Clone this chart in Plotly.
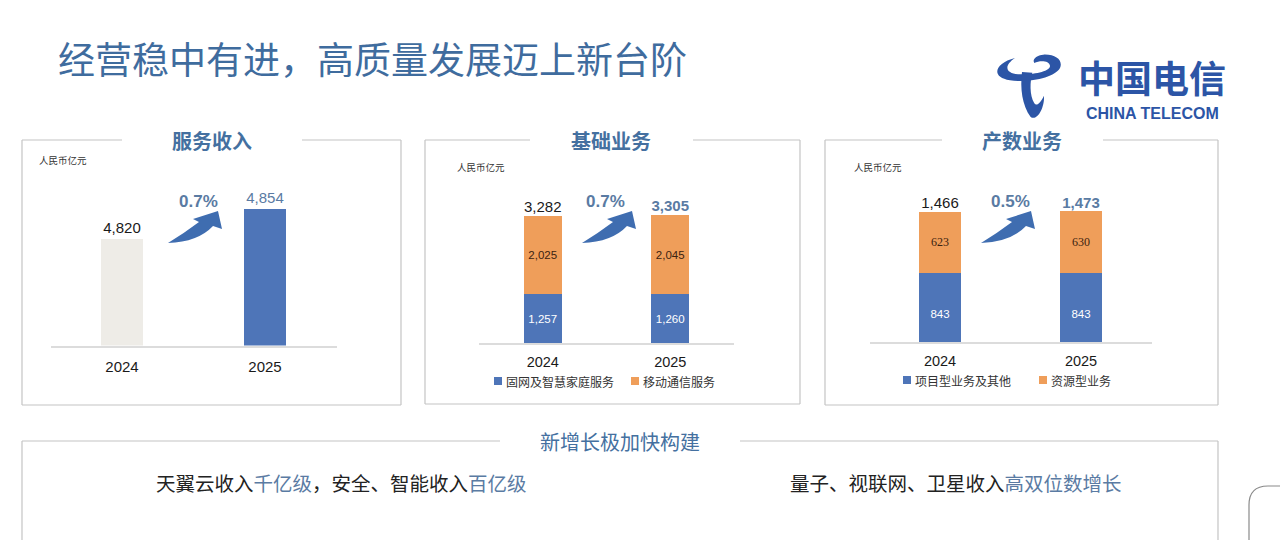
import plotly.graph_objects as go

# ---- data (unit: 人民币亿元) ----
years = ["2024", "2025"]
service_revenue = [4820, 4854]
basic_fixed_home = [1257, 1260]      # 固网及智慧家庭服务
basic_mobile = [2025, 2045]          # 移动通信服务
digital_project = [843, 843]         # 项目型业务及其他
digital_resource = [623, 630]        # 资源型业务
growth_labels = ["0.7%", "0.7%", "0.5%"]

panel_titles = ["服务收入", "基础业务", "产数业务"]
legend_basic = ["固网及智慧家庭服务", "移动通信服务"]
legend_digital = ["项目型业务及其他", "资源型业务"]

W, H = 1280, 540
BLUE = "#4e75b8"
ORANGE = "#ef9e5a"
LIGHT = "#eeece7"
STEEL = "#5a7ba3"
TITLE_BLUE = "#4470a0"
FRAME = "#c4c4c4"
CJK = "Noto Sans CJK SC"
NUM = "Liberation Sans, Arial, sans-serif"


def px(x):
    return x / W


def py(y):
    return 1 - y / H


def fmt(v):
    return f"{v:,}"


fig = go.Figure()

# 服务收入
fig.add_trace(go.Bar(
    x=years, y=service_revenue, name="服务收入",
    marker=dict(color=[LIGHT, BLUE], line=dict(width=0)),
    text=[fmt(v) for v in service_revenue], textposition="outside",
    textfont=dict(family=NUM, size=15, color=["#1a1a1a", STEEL]),
    cliponaxis=False, showlegend=False, xaxis="x", yaxis="y",
))

# 基础业务
fig.add_trace(go.Bar(
    x=years, y=basic_fixed_home, name=legend_basic[0],
    marker=dict(color=BLUE, line=dict(width=0)),
    text=[fmt(v) for v in basic_fixed_home], textposition="inside",
    insidetextanchor="middle", textangle=0,
    textfont=dict(family=NUM, size=11.5, color="white"),
    showlegend=False, xaxis="x2", yaxis="y2",
))
fig.add_trace(go.Bar(
    x=years, y=basic_mobile, name=legend_basic[1],
    marker=dict(color=ORANGE, line=dict(width=0)),
    text=[fmt(v) for v in basic_mobile], textposition="inside",
    insidetextanchor="middle", textangle=0,
    textfont=dict(family=NUM, size=11.5, color="#3b2210"),
    showlegend=False, xaxis="x2", yaxis="y2",
))
basic_total = [a + b for a, b in zip(basic_fixed_home, basic_mobile)]
fig.add_trace(go.Scatter(
    x=years, y=basic_total, mode="text",
    text=[fmt(basic_total[0]), "<b>" + fmt(basic_total[1]) + "</b>"],
    textposition="top center",
    textfont=dict(family=NUM, size=15, color=["#1a1a1a", STEEL]),
    showlegend=False, hoverinfo="skip", cliponaxis=False, xaxis="x2", yaxis="y2",
))

# 产数业务
fig.add_trace(go.Bar(
    x=years, y=digital_project, name=legend_digital[0],
    marker=dict(color=BLUE, line=dict(width=0)),
    text=[fmt(v) for v in digital_project], textposition="inside",
    insidetextanchor="middle", textangle=0,
    textfont=dict(family=NUM, size=11.5, color="white"),
    showlegend=False, xaxis="x3", yaxis="y3",
))
fig.add_trace(go.Bar(
    x=years, y=digital_resource, name=legend_digital[1],
    marker=dict(color=ORANGE, line=dict(width=0)),
    text=[fmt(v) for v in digital_resource], textposition="inside",
    insidetextanchor="middle", textangle=0,
    textfont=dict(family="Liberation Serif, Times New Roman, serif", size=12, color="#3b2210"),
    showlegend=False, xaxis="x3", yaxis="y3",
))
digital_total = [a + b for a, b in zip(digital_project, digital_resource)]
fig.add_trace(go.Scatter(
    x=years, y=digital_total, mode="text",
    text=[fmt(digital_total[0]), "<b>" + fmt(digital_total[1]) + "</b>"],
    textposition="top center",
    textfont=dict(family=NUM, size=15, color=["#1a1a1a", STEEL]),
    showlegend=False, hoverinfo="skip", cliponaxis=False, xaxis="x3", yaxis="y3",
))

# ---- axes ----
xcommon = dict(type="category", showline=True, linecolor="#dcdcdc", linewidth=1.5,
               showgrid=False, zeroline=False, ticks="", fixedrange=True,
               ticklabelstandoff=7,
               tickfont=dict(family=NUM, size=15, color="#1a1a1a"))
ycommon = dict(visible=False, showgrid=False, zeroline=False, fixedrange=True)
xstacked = dict(xcommon, ticklabelstandoff=5,
                tickfont=dict(family=NUM, size=14.5, color="#1a1a1a"))

fig.update_layout(
    xaxis=dict(xcommon, domain=[px(50.5), px(336.5)], anchor="y"),
    yaxis=dict(ycommon, domain=[py(345.5), py(175)], range=[4699, 4892]),
    xaxis2=dict(xstacked, domain=[px(479), px(734)], anchor="y2"),
    yaxis2=dict(ycommon, domain=[py(343), py(175)], range=[0, 4341]),
    xaxis3=dict(xstacked, domain=[px(869.5), px(1151.5)], anchor="y3"),
    yaxis3=dict(ycommon, domain=[py(342), py(175)], range=[139, 1843]),
)

shapes = []
annotations = []


def hline(x0, x1, y, color=FRAME, width=1.2):
    shapes.append(dict(type="line", xref="paper", yref="paper",
                       x0=px(x0), x1=px(x1), y0=py(y), y1=py(y),
                       line=dict(color=color, width=width)))


def vline(x, y0, y1, color=FRAME, width=1.2):
    shapes.append(dict(type="line", xref="paper", yref="paper",
                       x0=px(x), x1=px(x), y0=py(y0), y1=py(y1),
                       line=dict(color=color, width=width)))


def path_from(points_cmds):
    # build an svg path in paper units from pixel commands
    out = []
    for cmd, pts in points_cmds:
        coords = " ".join(f"{px(x):.5f},{py(y):.5f}" for x, y in pts)
        out.append(f"{cmd} {coords}")
    return " ".join(out) + " Z"


# panel frames with a gap in the top edge for the title
frames = [
    (22, 401, 140, 405, 122, 302, 212),
    (425, 800, 140, 404, 530, 693, 611),
    (825, 1218, 140, 405, 942, 1103, 1022),
]
for (l, r, t, b, g0, g1, cx), title in zip(frames, panel_titles):
    vline(l, t, b)
    vline(r, t, b)
    hline(l, r, b)
    hline(l, g0, t)
    hline(g1, r, t)
    annotations.append(dict(text=title, x=px(cx), y=py(140), xref="paper", yref="paper",
                            showarrow=False, xanchor="center", yanchor="middle",
                            font=dict(family=CJK, size=20, color=TITLE_BLUE, weight="bold")))

# bottom frame
vline(22, 441, 545)
vline(1218, 441, 545)
hline(22, 500, 441)
hline(740, 1218, 441)
annotations.append(dict(text="新增长极加快构建", x=px(620), y=py(441), xref="paper", yref="paper",
                        showarrow=False, xanchor="center", yanchor="middle",
                        font=dict(family=CJK, size=20, color=TITLE_BLUE)))
annotations.append(dict(
    text=f'天翼云收入<span style="color:{STEEL}">千亿级</span>，安全、智能收入<span style="color:{STEEL}">百亿级</span>',
    x=px(341), y=py(482), xref="paper", yref="paper", showarrow=False,
    xanchor="center", yanchor="middle", font=dict(family=CJK, size=19.5, color="#222222")))
annotations.append(dict(
    text=f'量子、视联网、卫星收入<span style="color:{STEEL}">高双位数增长</span>',
    x=px(956), y=py(482), xref="paper", yref="paper", showarrow=False,
    xanchor="center", yanchor="middle", font=dict(family=CJK, size=19.5, color="#222222")))

# partial rounded box at the lower right edge
shapes.append(dict(type="path", xref="paper", yref="paper",
                   path=f"M {px(1285)},{py(486)} L {px(1268)},{py(486)} "
                        f"Q {px(1249)},{py(486)} {px(1249)},{py(505)} L {px(1249)},{py(545)}",
                   line=dict(color="#8a8a8a", width=1.2)))

# unit labels
for x, y in [(37, 160), (455, 167), (852, 167)]:
    annotations.append(dict(text="人民币亿元", x=px(x), y=py(y), xref="paper", yref="paper",
                            showarrow=False, xanchor="left", yanchor="middle",
                            font=dict(family=CJK, size=9.5, color="#333333")))

# growth arrows and percentages
for (tx, ty), label, lx in zip([(168, 243), (582, 243), (981, 243)], growth_labels,
                               [198, 605, 1010]):
    def p(dx, dy):
        return (tx + dx, ty + dy)
    arrow = path_from([
        ("M", [p(0, 0)]),
        ("Q", [p(30, -1), p(45, -17)]),
        ("L", [p(54, -14)]),
        ("L", [p(50, -32)]),
        ("L", [p(25, -24)]),
        ("L", [p(31, -21)]),
        ("Q", [p(15, -9), p(0, 0)]),
    ])
    shapes.append(dict(type="path", xref="paper", yref="paper", path=arrow,
                       fillcolor="#3f6db0", line=dict(width=0)))
    annotations.append(dict(text=f"<b>{label}</b>", x=px(lx), y=py(ty - 42), xref="paper",
                            yref="paper", showarrow=False, xanchor="center", yanchor="middle",
                            font=dict(family=NUM, size=17, color=STEEL)))

# legends (square swatch + label)
for (sq, tx_, text, color, y) in [
    (498, 504, legend_basic[0], BLUE, 381),
    (635, 641, legend_basic[1], ORANGE, 381),
    (907, 913, legend_digital[0], BLUE, 380),
    (1043, 1049, legend_digital[1], ORANGE, 380),
]:
    shapes.append(dict(type="rect", xref="paper", yref="paper",
                       x0=px(sq - 4), x1=px(sq + 4), y0=py(y + 4), y1=py(y - 4),
                       fillcolor=color, line=dict(width=0)))
    annotations.append(dict(text=text, x=px(tx_), y=py(y), xref="paper", yref="paper",
                            showarrow=False, xanchor="left", yanchor="middle",
                            font=dict(family=CJK, size=12, color="#333333")))

# main title
annotations.append(dict(text="经营稳中有进，高质量发展迈上新台阶", x=px(372), y=py(58),
                        xref="paper", yref="paper", showarrow=False,
                        xanchor="center", yanchor="middle",
                        font=dict(family=CJK, size=37, color="#3f6c9e")))

# China Telecom logo
LOGO = "#2c55a6"
annotations.append(dict(text="中国电信", x=px(1152), y=py(77), xref="paper", yref="paper",
                        showarrow=False, xanchor="center", yanchor="middle",
                        font=dict(family=CJK, size=37, color=LOGO, weight="bold")))
annotations.append(dict(text="CHINA TELECOM", x=px(1152), y=py(113), xref="paper", yref="paper",
                        showarrow=False, xanchor="center", yanchor="middle",
                        font=dict(family=NUM, size=16, color=LOGO, weight="bold")))


def lp(zx, zy):
    return (990 + zx / 3, 48 + zy / 3)


cradle = path_from([
    ("M", [lp(75, 30)]),
    ("C", [lp(15, 45), lp(0, 88), lp(60, 97)]),
    ("C", [lp(120, 105), lp(195, 88), lp(210, 60)]),
    ("C", [lp(220, 38), lp(198, 18), lp(160, 20)]),
    ("C", [lp(138, 22), lp(126, 35), lp(133, 45)]),
    ("C", [lp(150, 36), lp(178, 38), lp(180, 53)]),
    ("C", [lp(182, 68), lp(140, 80), lp(90, 79)]),
    ("C", [lp(48, 78), lp(38, 55), lp(75, 30)]),
])
stem = path_from([
    ("M", [lp(96, 72)]),
    ("C", [lp(90, 120), lp(96, 172), lp(122, 207)]),
    ("C", [lp(140, 220), lp(164, 182), lp(162, 143)]),
    ("C", [lp(151, 165), lp(140, 176), lp(133, 166)]),
    ("C", [lp(118, 140), lp(120, 100), lp(127, 74)]),
])
for pth in (cradle, stem):
    shapes.append(dict(type="path", xref="paper", yref="paper", path=pth,
                       fillcolor=LOGO, line=dict(width=0)))

fig.update_layout(
    width=W, height=H, autosize=False,
    margin=dict(l=0, r=0, t=0, b=0),
    paper_bgcolor="white", plot_bgcolor="white",
    barmode="stack", bargap=0.7,
    showlegend=False,
    shapes=shapes, annotations=annotations,
    font=dict(family=CJK),
)

# the page body has a default 8px margin; remove it so the figure sits at (0, 0)
fig.write_html("out.html", config={"displayModeBar": False},
               post_script="document.body.style.margin='0';")
